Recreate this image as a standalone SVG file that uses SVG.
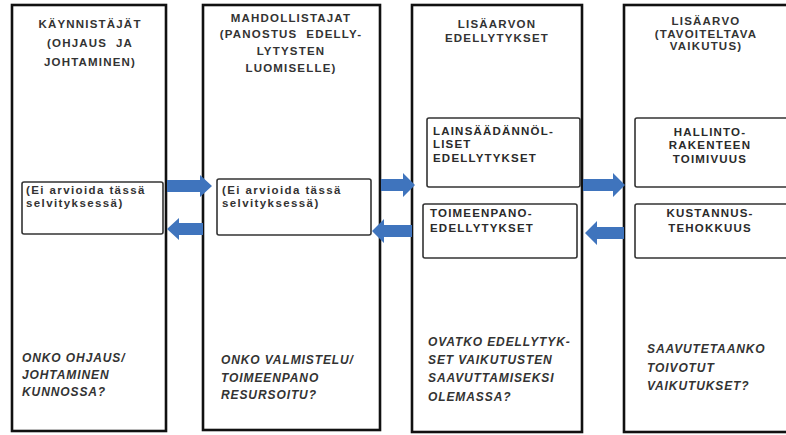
<svg xmlns="http://www.w3.org/2000/svg" width="786" height="435" viewBox="0 0 786 435">
<style>
.col{fill:none;stroke:#111;stroke-width:2.6}
.box{fill:#fff;stroke:#333;stroke-width:1.6}
.t{font-family:"Liberation Sans",Arial,sans-serif;font-weight:bold;font-size:11.5px;fill:#333;letter-spacing:1.2px;text-anchor:middle;white-space:pre}
.b{font-family:"Liberation Sans",Arial,sans-serif;font-weight:bold;font-size:11.5px;fill:#2a2a2a;letter-spacing:1.2px}
.c{text-anchor:middle}
.q{font-family:"Liberation Sans",Arial,sans-serif;font-weight:bold;font-style:italic;font-size:12px;fill:#333;letter-spacing:0.9px}
.e{font-family:"Liberation Sans",Arial,sans-serif;font-weight:bold;font-size:11.5px;fill:#333;letter-spacing:1.4px}
.arr{fill:#3f74bd}
</style>
<rect width="786" height="435" fill="#fff"/>
<g id="col1">
<rect class="col" x="12" y="5" width="154" height="426"/>
<text class="t" x="90" y="28">KÄYNNISTÄJÄT</text>
<text class="t" x="90" y="47">(OHJAUS  JA</text>
<text class="t" x="90" y="66">JOHTAMINEN)</text>
<rect class="box" x="22" y="182" width="141" height="52" rx="2"/>
<text class="e" x="26" y="194">(Ei arvioida tässä</text>
<text class="e" x="26" y="207">selvityksessä)</text>
<text class="q" x="22" y="362">ONKO OHJAUS/</text>
<text class="q" x="22" y="379">JOHTAMINEN</text>
<text class="q" x="22" y="396">KUNNOSSA?</text>
</g>
<g id="col2">
<rect class="col" x="203" y="5" width="177" height="425"/>
<text class="t" x="291" y="22">MAHDOLLISTAJAT</text>
<text class="t" x="291" y="38">(PANOSTUS  EDELLY-</text>
<text class="t" x="291" y="55">LYTYSTEN</text>
<text class="t" x="291" y="72">LUOMISELLE)</text>
<rect class="box" x="217" y="179" width="154" height="56" rx="2"/>
<text class="e" x="222" y="194">(Ei arvioida tässä</text>
<text class="e" x="222" y="207">selvityksessä)</text>
<text class="q" x="221" y="364">ONKO VALMISTELU/</text>
<text class="q" x="221" y="382">TOIMEENPANO</text>
<text class="q" x="221" y="399">RESURSOITU?</text>
</g>
<g id="col3">
<rect class="col" x="412" y="5" width="170" height="427"/>
<text class="t" x="497" y="28">LISÄARVON</text>
<text class="t" x="497" y="42">EDELLYTYKSET</text>
<rect class="box" x="427" y="118" width="153" height="69" rx="2"/>
<text class="b" x="433" y="135">LAINSÄÄDÄNNÖL-</text>
<text class="b" x="433" y="148">LISET</text>
<text class="b" x="433" y="162">EDELLYTYKSET</text>
<rect class="box" x="423" y="204" width="154" height="54" rx="2"/>
<text class="b" x="430" y="217">TOIMEENPANO-</text>
<text class="b" x="430" y="232">EDELLYTYKSET</text>
<text class="q" x="428" y="346">OVATKO EDELLYTYK-</text>
<text class="q" x="428" y="364">SET VAIKUTUSTEN</text>
<text class="q" x="428" y="382">SAAVUTTAMISEKSI</text>
<text class="q" x="428" y="401">OLEMASSA?</text>
</g>
<g id="col4">
<rect class="col" x="624" y="5" width="175" height="427"/>
<text class="t" x="706" y="25">LISÄARVO</text>
<text class="t" x="706" y="38">(TAVOITELTAVA</text>
<text class="t" x="706" y="50">VAIKUTUS)</text>
<rect class="box" x="635" y="118" width="160" height="69" rx="2"/>
<text class="b c" x="710" y="136">HALLINTO-</text>
<text class="b c" x="710" y="149">RAKENTEEN</text>
<text class="b c" x="710" y="163">TOIMIVUUS</text>
<rect class="box" x="635" y="204" width="160" height="54" rx="2"/>
<text class="b c" x="710" y="217">KUSTANNUS-</text>
<text class="b c" x="710" y="232">TEHOKKUUS</text>
<text class="q" x="647" y="353">SAAVUTETAANKO</text>
<text class="q" x="647" y="372">TOIVOTUT</text>
<text class="q" x="647" y="390">VAIKUTUKSET?</text>
</g>
<g id="connectors">
<path class="arr" d="M167,180 H200 V175 L212,186 L200,197 V192 H167 Z"/>
<path class="arr" d="M203,223 H179 V218 L167,229 L179,240 V235 H203 Z"/>
<path class="arr" d="M381,179 H403 V173 L415,185 L403,197 V191 H381 Z"/>
<path class="arr" d="M412,225 H384 V219 L372,231 L384,243 V237 H412 Z"/>
<path class="arr" d="M583,179 H613 V173 L625,185 L613,197 V191 H583 Z"/>
<path class="arr" d="M624,227 H597 V221 L585,233 L597,245 V239 H624 Z"/>
</g>
</svg>
